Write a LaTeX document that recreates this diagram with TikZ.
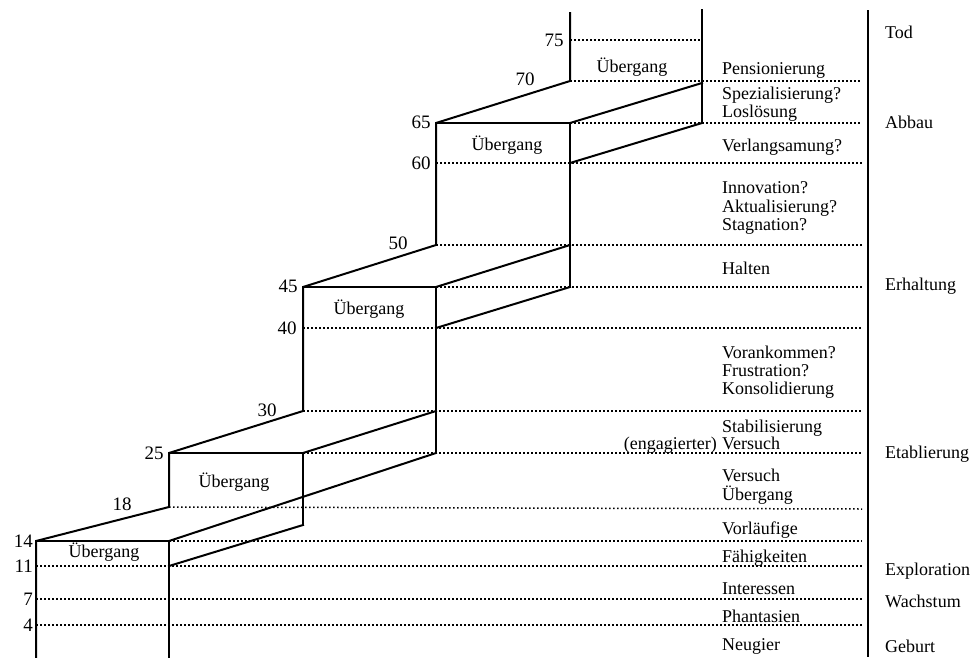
\documentclass[tikz,border=0pt]{standalone}
\usepackage{fontspec}
\setmainfont{Liberation Serif}
\begin{document}
\begin{tikzpicture}[x=1pt,y=-1pt,
  edge/.style={line width=2pt, line join=miter, line cap=rect},
  dotline/.style={line width=1.5pt, dash pattern=on 1.5pt off 2.5pt},
  rule/.style={line width=1.6pt},
  txt/.style={font=\fontsize{18}{20}\selectfont, inner sep=0pt, anchor=base west},
  num/.style={font=\fontsize{19}{20}\selectfont, inner sep=0pt},
  ub/.style={font=\fontsize{18}{20}\selectfont, inner sep=0pt}]
\useasboundingbox (0,0) rectangle (972,657);
% corners
\coordinate (a0) at (36,657);
\coordinate (a4) at (36,625);
\coordinate (a7) at (36,599);
\coordinate (a11) at (36,566);
\coordinate (a14) at (36,541);
\coordinate (b0) at (169,657);
\coordinate (b11) at (169,566);
\coordinate (b14) at (169,541);
\coordinate (b18) at (169,507);
\coordinate (b25) at (169,453);
\coordinate (c22) at (303,525);
\coordinate (c25) at (303,453);
\coordinate (c30) at (303,411);
\coordinate (c40) at (303,328);
\coordinate (c45) at (303,287);
\coordinate (d25) at (436,453);
\coordinate (d30) at (436,411);
\coordinate (d40) at (436,328);
\coordinate (d45) at (436,287);
\coordinate (d50) at (436,245);
\coordinate (d60) at (436,163);
\coordinate (d65) at (436,123);
\coordinate (e45) at (570,287);
\coordinate (e50) at (570,245);
\coordinate (e60) at (570,163);
\coordinate (e65) at (570,123);
\coordinate (e70) at (570,81);
\coordinate (e75) at (570,40);
\coordinate (etop) at (570,13);
\coordinate (f65) at (702,123);
\coordinate (f70) at (702,83);
\coordinate (f75) at (700,40);
\coordinate (ftop) at (702,10);
% right ends of dotted lines
\foreach \n/\y in {r70/81,r65/123,r60/163,r50/245,r45/287,r40/328,r30/411,r25/453,r18/509,r14/541,r11/566,r7/599,r4/625}
  \coordinate (\n) at (862,\y);
\coordinate (ruletop) at (868,10);
\coordinate (rulebot) at (868,657);

% dotted levels
\draw[dotline] (e75) -- (f75);
\draw[dotline] (e70) -- (r70);
\draw[dotline] (e65) -- (r65);
\draw[dotline] (d60) -- (r60);
\draw[dotline] (d50) -- (r50);
\draw[dotline] (d45) -- (r45);
\draw[dotline] (c40) -- (r40);
\draw[dotline] (c30) -- (r30);
\draw[dotline] (c25) -- (r25);
\draw[dotline] (b18) -- (r18);
\draw[dotline] (b14) -- (r14);
\draw[dotline] (a11) -- (r11);
\draw[dotline] (a7) -- (r7);
\draw[dotline] (a4) -- (r4);

% staircase outline
\draw[edge] (a0) -- (a14) -- (b18) -- (b25) -- (c30) -- (c45) -- (d50) -- (d65) -- (e70) -- (etop);
\draw[edge] (a14) -- (b14);
\draw[edge] (b25) -- (c25);
\draw[edge] (c45) -- (d45);
\draw[edge] (d65) -- (e65);
\draw[edge] (b0) -- (b14);
\draw[edge] (c22) -- (c25);
\draw[edge] (d25) -- (d45);
\draw[edge] (e45) -- (e65);
\draw[edge] (f65) -- (ftop);
\draw[edge] (b11) -- (c22);
\draw[edge] (b14) -- (d25);
\draw[edge] (c25) -- (d30);
\draw[edge] (d40) -- (e45);
\draw[edge] (d45) -- (e50);
\draw[edge] (e60) -- (f65);
\draw[edge] (e65) -- (f70);
\draw[rule] (ruletop) -- (rulebot);

% age numbers
\node[num, anchor=east] (n14) at (33,541) {14};
\node[num, anchor=east] (n11) at (33,566) {11};
\node[num, anchor=east] (n7) at (33,599) {7};
\node[num, anchor=east] (n4) at (33,625) {4};
\node[num] (n18) at (122,504) {18};
\node[num] (n25) at (154,453) {25};
\node[num] (n30) at (267,410) {30};
\node[num] (n40) at (287,328) {40};
\node[num] (n45) at (288,286) {45};
\node[num] (n50) at (398,243) {50};
\node[num] (n60) at (421,163) {60};
\node[num] (n65) at (421,122) {65};
\node[num] (n70) at (525,79) {70};
\node[num] (n75) at (554,40) {75};

% Übergang labels
\node[ub] (u1) at (104,552) {Übergang};
\node[ub] (u2) at (234,482) {Übergang};
\node[ub] (u3) at (369,309) {Übergang};
\node[ub] (u4) at (507,145) {Übergang};
\node[ub] (u5) at (632,67) {Übergang};

% middle column
\node[txt] (t1) at (722,74) {Pensionierung};
\node[txt] (t2) at (722,99) {Spezialisierung?};
\node[txt] (t3) at (722,117) {Loslösung};
\node[txt] (t4) at (722,151) {Verlangsamung?};
\node[txt] (t5) at (722,193) {Innovation?};
\node[txt] (t6) at (722,212) {Aktualisierung?};
\node[txt] (t7) at (722,230) {Stagnation?};
\node[txt] (t8) at (722,274) {Halten};
\node[txt] (t9) at (722,358) {Vorankommen?};
\node[txt] (t10) at (722,376) {Frustration?};
\node[txt] (t11) at (722,394) {Konsolidierung};
\node[txt] (t12) at (722,432) {Stabilisierung};
\node[txt] (t13) at (722,449) {Versuch};
\node[txt, anchor=base east] (t13a) at ([xshift=-5pt]t13.base west) {(engagierter)};
\node[txt] (t14) at (722,481) {Versuch};
\node[txt] (t15) at (722,500) {Übergang};
\node[txt] (t16) at (722,534) {Vorläufige};
\node[txt] (t17) at (722,562) {Fähigkeiten};
\node[txt] (t18) at (722,594) {Interessen};
\node[txt] (t19) at (722,622) {Phantasien};
\node[txt] (t20) at (722,650) {Neugier};

% stages
\node[txt] (s1) at (885,38) {Tod};
\node[txt] (s2) at (885,128) {Abbau};
\node[txt] (s3) at (885,290) {Erhaltung};
\node[txt] (s4) at (885,458) {Etablierung};
\node[txt] (s5) at (885,575) {Exploration};
\node[txt] (s6) at (885,607) {Wachstum};
\node[txt] (s7) at (885,652) {Geburt};
\end{tikzpicture}
\end{document}
